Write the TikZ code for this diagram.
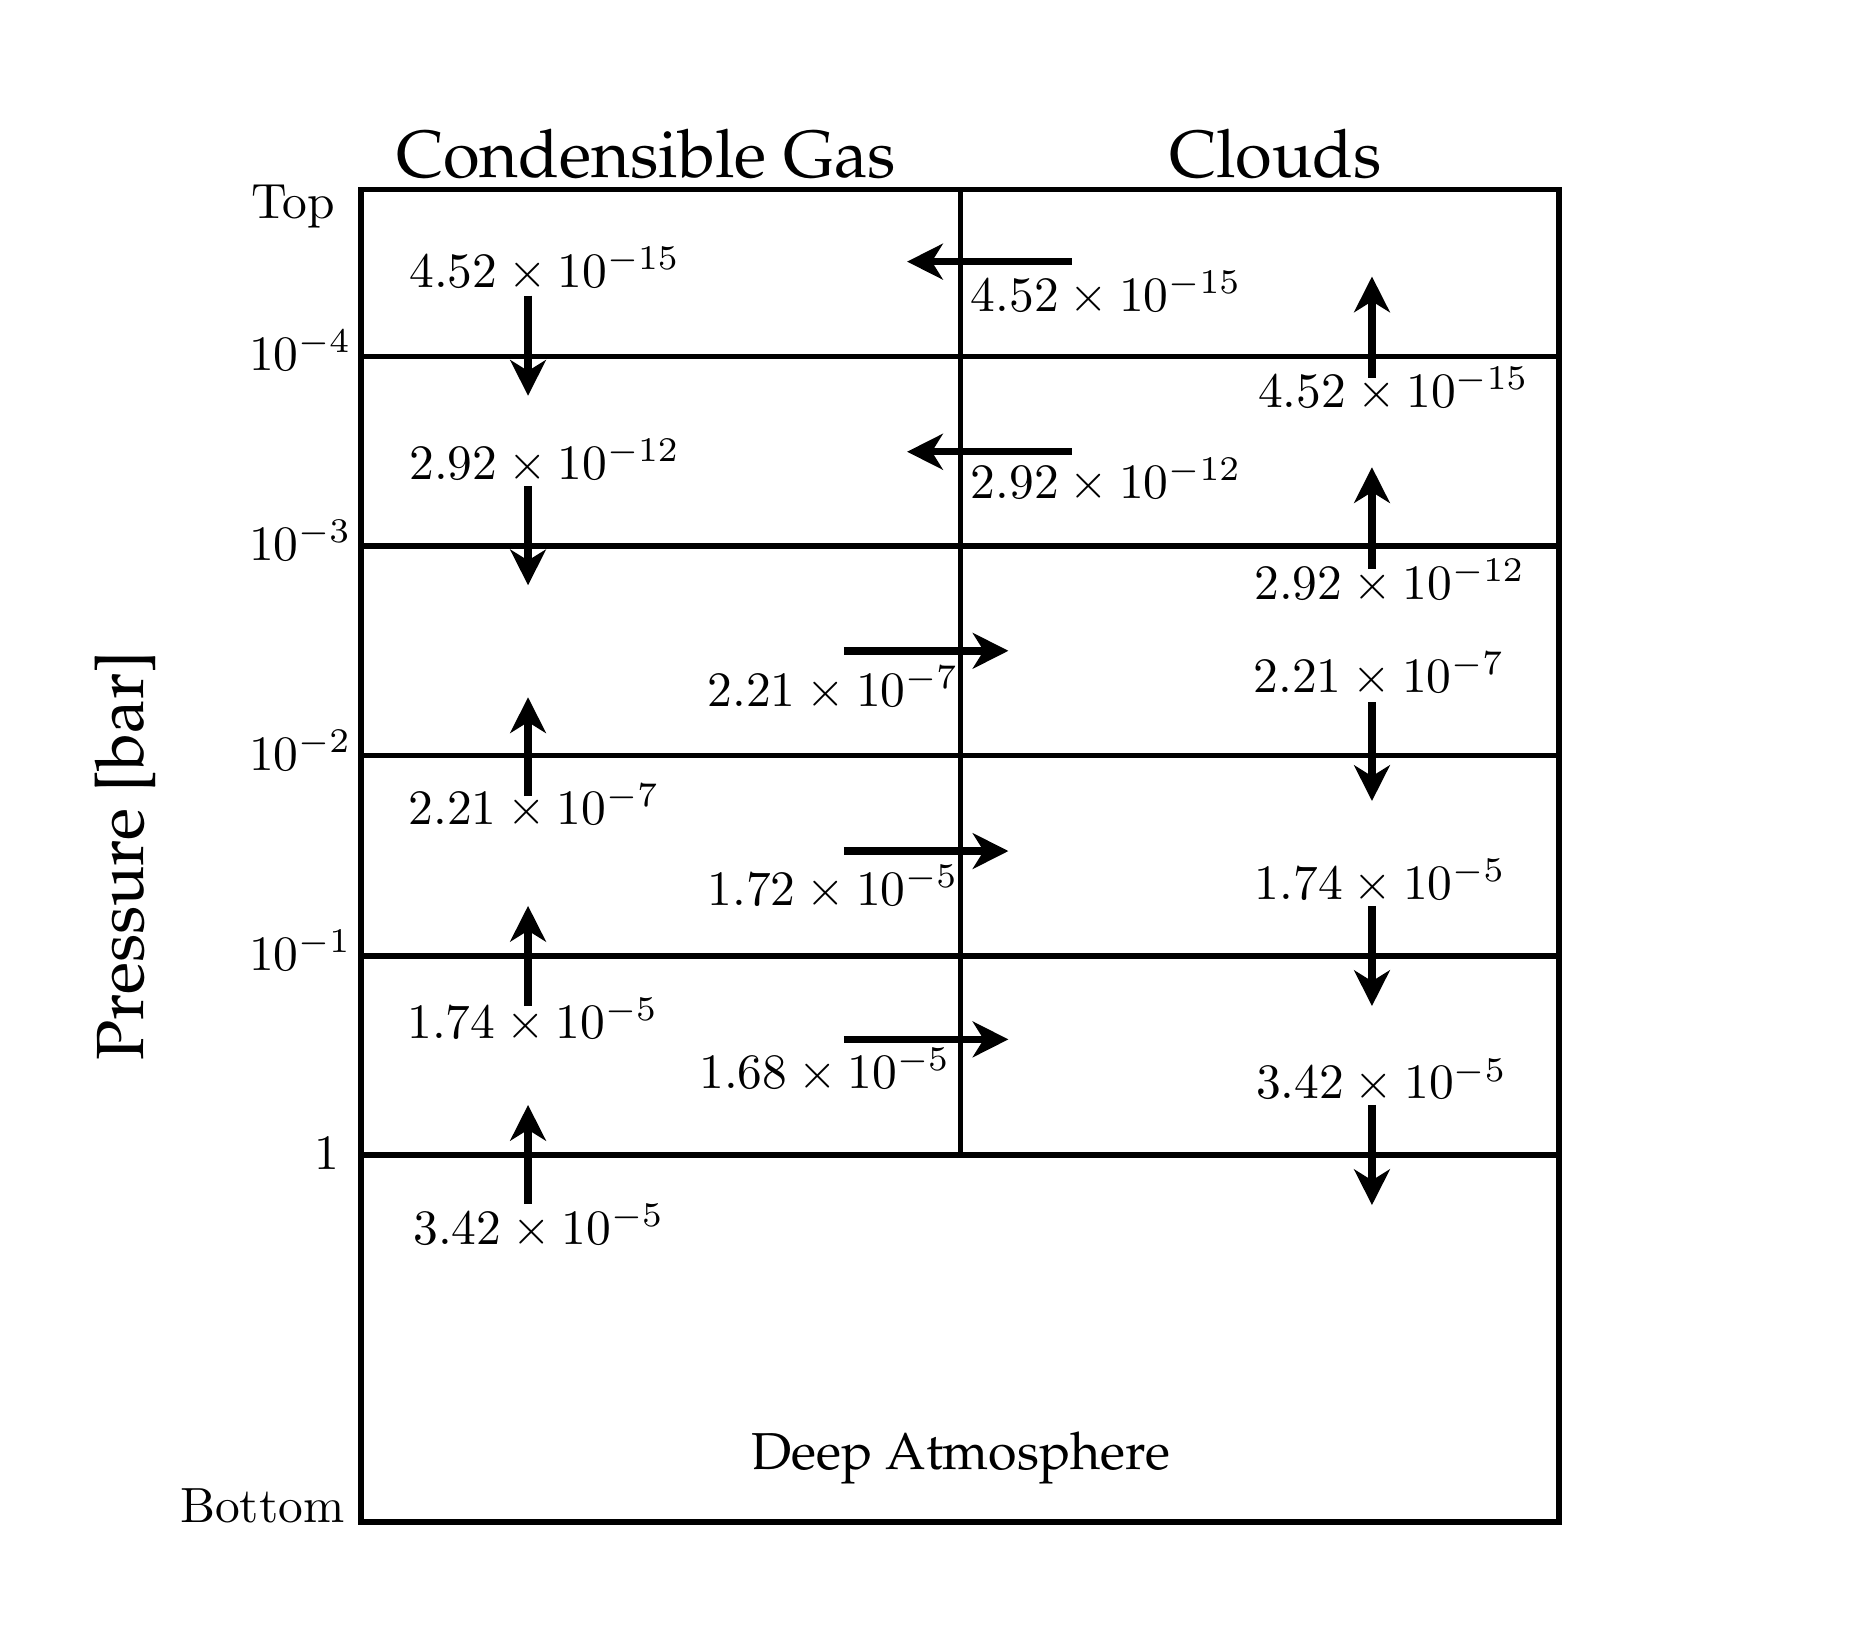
\documentclass[tikz,border=0pt]{standalone}
\usepackage[T1,TU]{fontenc}
\usetikzlibrary{arrows.meta}
\newcommand{\palfont}{\fontencoding{T1}\fontfamily{ppl}\selectfont}
\begin{document}
\begin{tikzpicture}[x=0.241pt,y=-0.241pt,
  frame/.style={line width=1.1pt},
  flow/.style={line width=1.5pt,-{Stealth[length=7.2pt,width=7.2pt,inset=2.2pt]}},
  val/.style={inner sep=0pt,anchor=base,font=\fontsize{10}{12}\selectfont},
  axlab/.style={inner sep=0pt,anchor=base,font=\fontsize{10}{12}\selectfont},
  head/.style={inner sep=0pt,anchor=base,font=\fontsize{13.5}{16}\palfont},
  deep/.style={inner sep=0pt,anchor=base,font=\fontsize{10.5}{12}\palfont},
]
\useasboundingbox (0,0) rectangle (1568,1378);

% frame and layers
\draw[frame] (303,159) rectangle (1308,1277);
\foreach \yy in {299,458,634,802,969}{\draw[frame] (303,\yy) -- (1308,\yy);}
\draw[frame] (806,159) -- (806,969);

% headings
\node[head] (hgas) at (542,149) {Condensible Gas};
\node[head] (hcld) at (1070,149) {Clouds};
\node[head,rotate=90] (hp) at (120,718) {Pressure [bar]};
\node[deep] (hdeep) at (806,1233) {Deep Atmosphere};

% axis labels
\node[axlab] (ptop) at (246,183) {Top};
\node[axlab] (p4) at (252,311) {$10^{-4}$};
\node[axlab] (p3) at (252,470) {$10^{-3}$};
\node[axlab] (p2) at (252,646) {$10^{-2}$};
\node[axlab] (p1) at (252,814) {$10^{-1}$};
\node[axlab] (p0) at (274,981) {$1$};
\node[axlab] (pbot) at (220,1277) {Bottom};

% left column (condensible gas, vertical)
\node[val] (l1) at (457,241) {$4.52\times10^{-15}$};
\coordinate (l1s) at (443,248); \coordinate (l1e) at (443,332);
\draw[flow] (l1s) -- (l1e);
\node[val] (l2) at (457,402) {$2.92\times10^{-12}$};
\coordinate (l2s) at (443,408); \coordinate (l2e) at (443,491);
\draw[flow] (l2s) -- (l2e);
\node[val] (l3) at (448,692) {$2.21\times10^{-7}$};
\coordinate (l3s) at (443,668); \coordinate (l3e) at (443,585);
\draw[flow] (l3s) -- (l3e);
\node[val] (l4) at (447,871) {$1.74\times10^{-5}$};
\coordinate (l4s) at (443,844); \coordinate (l4e) at (443,760);
\draw[flow] (l4s) -- (l4e);
\node[val] (l5) at (452,1044) {$3.42\times10^{-5}$};
\coordinate (l5s) at (443,1010); \coordinate (l5e) at (443,927);
\draw[flow] (l5s) -- (l5e);

% middle, gas to clouds (horizontal, rightwards)
\node[val] (m1) at (699,593) {$2.21\times10^{-7}$};
\coordinate (m1s) at (708,546); \coordinate (m1e) at (846,546);
\draw[flow] (m1s) -- (m1e);
\node[val] (m2) at (699,760) {$1.72\times10^{-5}$};
\coordinate (m2s) at (708,714); \coordinate (m2e) at (846,714);
\draw[flow] (m2s) -- (m2e);
\node[val] (m3) at (692,913) {$1.68\times10^{-5}$};
\coordinate (m3s) at (708,872); \coordinate (m3e) at (846,872);
\draw[flow] (m3s) -- (m3e);

% middle, clouds to gas (horizontal, leftwards)
\node[val] (c1) at (928,261) {$4.52\times10^{-15}$};
\coordinate (c1s) at (899,219.5); \coordinate (c1e) at (761,219.5);
\draw[flow] (c1s) -- (c1e);
\node[val] (c2) at (928,418) {$2.92\times10^{-12}$};
\coordinate (c2s) at (899,379); \coordinate (c2e) at (761,379);
\draw[flow] (c2s) -- (c2e);

% right column (clouds, vertical)
\node[val] (r1) at (1169,342) {$4.52\times10^{-15}$};
\coordinate (r1s) at (1151,317); \coordinate (r1e) at (1151,232);
\draw[flow] (r1s) -- (r1e);
\node[val] (r2) at (1166,503) {$2.92\times10^{-12}$};
\coordinate (r2s) at (1151,477); \coordinate (r2e) at (1151,392);
\draw[flow] (r2s) -- (r2e);
\node[val] (r3) at (1157,581) {$2.21\times10^{-7}$};
\coordinate (r3s) at (1151,589); \coordinate (r3e) at (1151,672);
\draw[flow] (r3s) -- (r3e);
\node[val] (r4) at (1158,755) {$1.74\times10^{-5}$};
\coordinate (r4s) at (1151,760); \coordinate (r4e) at (1151,844);
\draw[flow] (r4s) -- (r4e);
\node[val] (r5) at (1159,922) {$3.42\times10^{-5}$};
\coordinate (r5s) at (1151,927); \coordinate (r5e) at (1151,1011);
\draw[flow] (r5s) -- (r5e);
\end{tikzpicture}
\end{document}
